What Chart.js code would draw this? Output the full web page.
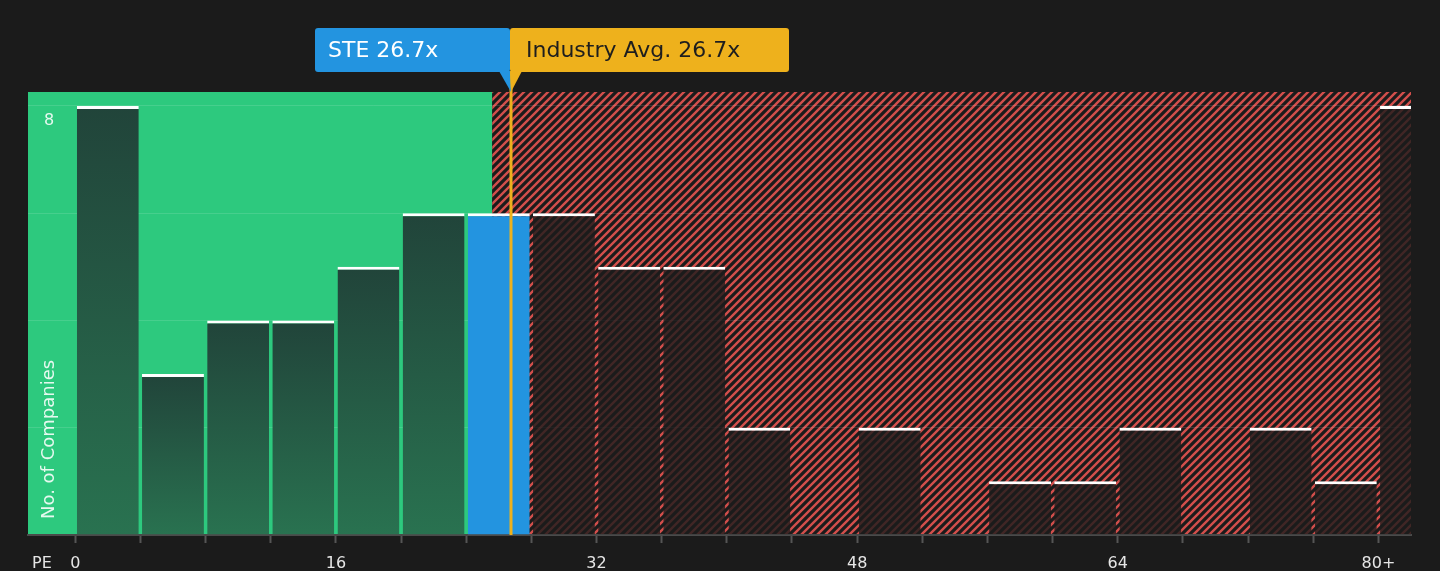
<!DOCTYPE html>
<html>
<head>
<meta charset="utf-8">
<script src="https://cdn.jsdelivr.net/npm/chart.js@4.4.1/dist/chart.umd.min.js"></script>
<style>
  html, body { margin: 0; padding: 0; background: #1b1b1b; }
  #wrap { width: 1440px; height: 571px; position: relative; }
</style>
</head>
<body>
<div id="wrap"><canvas id="peChart"></canvas></div>
<script>
// PE bins are 4 wide, centre values; last bin is "80+"
const binCenters = [2, 6, 10, 14, 18, 22, 26, 30, 34, 38, 42, 46, 50, 54, 58, 62, 66, 70, 74, 78, 82];
const companyCounts = [8, 3, 4, 4, 5, 6, 6, 6, 5, 5, 2, 0, 2, 0, 1, 1, 2, 0, 2, 1, 8];
const tickValues = [0, 4, 8, 12, 16, 20, 24, 28, 32, 36, 40, 44, 48, 52, 56, 60, 64, 68, 72, 76, 80];
const labeledTicks = [0, 16, 32, 48, 64, 80];
const yTicks = [0, 2, 4, 6, 8];

const companyName = "STE";
const companyPE = 26.7;
const industryPE = 26.7;
const goodValueEnd = 25.6; // end of green zone

const GREEN = "#2dc97e";
const BLUE = "#2394e0";
const YELLOW = "#eeb11c";
const RED = "#d24f4c";

Chart.defaults.font.family = "'DejaVu Sans', sans-serif";

function hatchPattern() {
  const s = 8;
  const c = document.createElement("canvas");
  c.width = s; c.height = s;
  const g = c.getContext("2d");
  g.fillStyle = "#1b1b1b";
  g.fillRect(0, 0, s, s);
  g.strokeStyle = RED;
  g.lineWidth = 2.4;
  g.beginPath();
  g.moveTo(-1, s + 1); g.lineTo(s + 1, -1);
  g.moveTo(-1, 1); g.lineTo(1, -1);
  g.moveTo(s - 1, s + 1); g.lineTo(s + 1, s - 1);
  g.stroke();
  return g.createPattern(c, "repeat");
}

function binOf(pe) {
  return binCenters.findIndex(c => pe >= c - 2 && pe < c + 2);
}

const barData = binCenters.map((c, i) => ({ x: c, y: companyCounts[i] }));

// zones behind everything (grid is drawn over it)
const zonesPlugin = {
  id: "zones",
  beforeDraw(chart) {
    const { ctx, chartArea: a, scales: { x } } = chart;
    const split = x.getPixelForValue(goodValueEnd);
    ctx.save();
    ctx.fillStyle = GREEN;
    ctx.fillRect(a.left, a.top, split - a.left, a.bottom - a.top);
    ctx.fillStyle = hatchPattern();
    ctx.fillRect(split, a.top, a.right - split, a.bottom - a.top);
    ctx.restore();
  }
};

function roundRect(ctx, x, y, w, h, r) {
  ctx.beginPath();
  ctx.moveTo(x + r, y);
  ctx.lineTo(x + w - r, y);
  ctx.quadraticCurveTo(x + w, y, x + w, y + r);
  ctx.lineTo(x + w, y + h - r);
  ctx.quadraticCurveTo(x + w, y + h, x + w - r, y + h);
  ctx.lineTo(x + r, y + h);
  ctx.quadraticCurveTo(x, y + h, x, y + h - r);
  ctx.lineTo(x, y + r);
  ctx.quadraticCurveTo(x, y, x + r, y);
  ctx.closePath();
}

// labels, marker line and axis captions
const markersPlugin = {
  id: "markers",
  afterDraw(chart) {
    const { ctx, chartArea: a, scales: { x } } = chart;
    const lx = Math.round(x.getPixelForValue(industryPE)) + 1;
    const cx = Math.round(x.getPixelForValue(companyPE)) + 1;
    const boxTop = 28, boxH = 44, boxBottom = boxTop + boxH;
    ctx.save();

    // industry line
    ctx.strokeStyle = YELLOW;
    ctx.lineWidth = 3;
    ctx.beginPath();
    ctx.moveTo(lx, boxBottom);
    ctx.lineTo(lx, a.bottom);
    ctx.stroke();

    // company label
    ctx.fillStyle = BLUE;
    roundRect(ctx, cx - 196, boxTop, 195, boxH, 3);
    ctx.fill();
    ctx.beginPath();
    ctx.moveTo(cx - 12, boxBottom - 1);
    ctx.lineTo(cx - 1, boxBottom - 1);
    ctx.lineTo(cx, a.top);
    ctx.closePath();
    ctx.fill();
    ctx.font = "22px 'DejaVu Sans', sans-serif";
    ctx.textBaseline = "middle";
    ctx.textAlign = "left";
    ctx.fillStyle = "#ffffff";
    ctx.fillText(companyName + " " + companyPE.toFixed(1) + "x", cx - 183, boxTop + boxH / 2 + 1);

    // industry label
    ctx.fillStyle = YELLOW;
    roundRect(ctx, lx - 1, boxTop, 279, boxH, 3);
    ctx.fill();
    ctx.beginPath();
    ctx.moveTo(lx - 1, boxBottom - 1);
    ctx.lineTo(lx + 11, boxBottom - 1);
    ctx.lineTo(lx, a.top);
    ctx.closePath();
    ctx.fill();
    ctx.fillStyle = "#1e1e1e";
    ctx.fillText("Industry Avg. " + industryPE.toFixed(1) + "x", lx + 15, boxTop + boxH / 2 + 1);

    // axis captions
    ctx.font = "16px 'DejaVu Sans', sans-serif";
    ctx.fillStyle = "#e6e6e6";
    ctx.textAlign = "center";
    ctx.fillText("PE", 42, 564);

    ctx.translate(a.left + 21, a.bottom - 16);
    ctx.rotate(-Math.PI / 2);
    ctx.font = "18px 'DejaVu Sans', sans-serif";
    ctx.textAlign = "left";
    ctx.fillStyle = "rgba(255,255,255,0.88)";
    ctx.fillText("No. of Companies", 0, 0);
    ctx.restore();
  }
};

const stdBin = binOf(companyPE);

new Chart(document.getElementById("peChart"), {
  type: "bar",
  data: {
    datasets: [{
      data: barData,
      barPercentage: 0.95,
      categoryPercentage: 1,
      borderColor: "#ffffff",
      borderSkipped: false,
      borderWidth: ctx => ctx.parsed && ctx.parsed.y > 0 ? { top: 3, left: 0, right: 0, bottom: 0 } : 0,
      backgroundColor: ctx => {
        const i = ctx.dataIndex;
        if (i === stdBin) return BLUE;
        if (binCenters[i] + 2 <= goodValueEnd) {
          const chart = ctx.chart;
          const y = chart.scales.y;
          if (!y || !chart.chartArea) return "#235b43";
          const top = y.getPixelForValue(ctx.parsed.y);
          const bottom = y.getPixelForValue(0);
          const g = chart.ctx.createLinearGradient(0, top, 0, bottom);
          g.addColorStop(0, "#21443a");
          g.addColorStop(1, "#297250");
          return g;
        }
        return "rgba(27,27,27,0.8)";
      }
    }]
  },
  options: {
    responsive: true,
    maintainAspectRatio: false,
    animation: false,
    devicePixelRatio: 1,
    layout: { padding: { left: 28, right: 29, top: 92, bottom: 0 } },
    plugins: { legend: { display: false }, tooltip: { enabled: false } },
    scales: {
      x: {
        type: "linear",
        min: -2.9,
        max: 82,
        offset: false,
        afterBuildTicks: s => { s.ticks = tickValues.map(v => ({ value: v })); },
        afterFit: s => { s.height = 36; },
        ticks: {
          autoSkip: false,
          maxRotation: 0,
          padding: 11,
          color: "#e6e6e6",
          font: { size: 16 },
          callback: v => labeledTicks.includes(v) ? (v === 80 ? "80+" : String(v)) : ""
        },
        grid: { offset: false, drawOnChartArea: false, drawTicks: true, tickLength: 8, color: "#555555", tickWidth: 2 },
        border: { display: true, color: "#4a4a4a", width: 2 }
      },
      y: {
        min: 0,
        max: 8.26,
        afterBuildTicks: s => { s.ticks = yTicks.map(v => ({ value: v })); },
        afterFit: s => { s.width = 0; },
        ticks: {
          mirror: true,
          padding: 16,
          labelOffset: 15,
          color: "rgba(255,255,255,0.88)",
          font: { size: 16 },
          callback: v => v === 8 ? "8" : ""
        },
        grid: { drawTicks: false, color: "rgba(255,255,255,0.12)", lineWidth: 1 },
        border: { display: false }
      }
    }
  },
  plugins: [zonesPlugin, markersPlugin]
});
</script>
</body>
</html>
